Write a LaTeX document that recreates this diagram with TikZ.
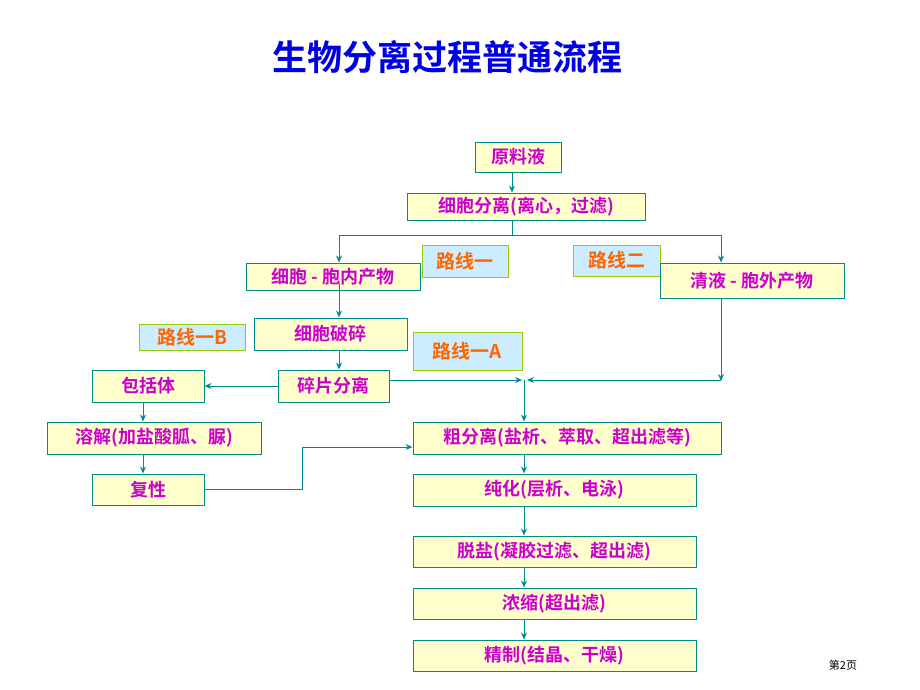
\documentclass[tikz,border=0pt]{standalone}
\usepackage{fontspec}
\setmainfont{Liberation Sans}
\newfontfamily\cjk{Noto Sans CJK SC}[BoldFont={Noto Sans CJK SC Bold}]
\definecolor{boxfill}{RGB}{255,255,204}
\definecolor{boxline}{RGB}{0,140,140}
\definecolor{txtmag}{RGB}{204,0,204}
\definecolor{tagfill}{RGB}{204,236,255}
\definecolor{tagline}{RGB}{153,204,0}
\definecolor{tagtxt}{RGB}{255,102,0}
\usetikzlibrary{arrows.meta}
\begin{document}
\begin{tikzpicture}[x=1pt, y=-1pt, inner sep=0pt,
  stage/.style={draw=boxline, fill=boxfill, line width=1pt, text=txtmag,
    font=\cjk\bfseries\fontsize{18}{18}\selectfont},
  tag/.style={draw=tagline, fill=tagfill, line width=1pt, text=tagtxt,
    font=\cjk\bfseries\fontsize{19}{19}\selectfont},
  link/.style={draw=boxline, line width=1pt, -{Stealth[length=7pt,width=6pt]}},
  wire/.style={draw=boxline, line width=1pt}]
\useasboundingbox (0,0) rectangle (920,690);
\newcommand\bx[7]{\node[#1, minimum width=#4-#3, minimum height=#6-#5] (#2) at ({(#3+#4)/2},{(#5+#6)/2}) {#7};}
\node[text={rgb,255:red,0;green,0;blue,230}, font=\cjk\bfseries\fontsize{35}{35}\selectfont] (title) at (447,57) {生物分离过程普通流程};
\node[font=\cjk\fontsize{11}{11}\selectfont] (page) at (843,665) {第2页};

\bx{stage}{feed}{475}{561}{142}{172}{原料液}
\bx{stage}{sep}{407}{645}{193}{220}{细胞分离(离心，过滤)}
\bx{tag}{r1}{422}{508}{245}{277}{路线一}
\bx{tag}{r2}{573}{660}{245}{276}{路线二}
\bx{stage}{cell}{246}{420}{263}{290}{细胞 - 胞内产物}
\bx{stage}{liq}{660}{844}{263}{298}{清液 - 胞外产物}
\bx{stage}{brk}{254}{407}{318}{350}{细胞破碎}
\bx{tag}{r1b}{139}{245}{324}{350}{路线一B}
\bx{tag}{r1a}{413}{522}{332}{370}{路线一A}
\bx{stage}{incl}{92}{204}{370}{402}{包括体}
\bx{stage}{frag}{278}{389}{370}{402}{碎片分离}
\bx{stage}{dis}{47}{261}{422}{454}{溶解(加盐酸胍、脲)}
\bx{stage}{ref}{92}{204}{474}{505}{复性}
\bx{stage}{crude}{413}{721}{422}{454}{粗分离(盐析、萃取、超出滤等)}
\bx{stage}{pur}{413}{696}{474}{506}{纯化(层析、电泳)}
\bx{stage}{desalt}{413}{696}{536}{567}{脱盐(凝胶过滤、超出滤)}
\bx{stage}{conc}{413}{696}{588}{619}{浓缩(超出滤)}
\bx{stage}{fin}{413}{696}{640}{671}{精制(结晶、干燥)}

\coordinate (split) at (512,235);
\coordinate (join) at (524,380);
\coordinate (bend) at (302,447);
\coordinate (left) at (339,0);
\coordinate (right) at (721,0);
\coordinate (side) at (143,0);
\draw[link] (feed.south -| split) -- (sep.north -| split);
\draw[wire] (sep.south -| split) -- (split);
\draw[link] (split) -| (cell.north -| left);
\draw[link] (split) -| (liq.north -| right);
\draw[link] ([yshift=8pt]cell.south -| left) -- (brk.north -| left);
\draw[link] (brk.south -| left) -- (frag.north -| left);
\draw[link] (frag) -- (incl);
\draw[link] (frag.east |- join) -- ([xshift=-2pt]join);
\draw[wire] (liq.south -| right) -- (right |- join);
\draw[link] (liq.south -| right) -- ([yshift=-1pt]right |- join);
\draw[link] (right |- join) -- ([xshift=3pt]join);
\draw[link] (join) -- (join |- crude.north);
\draw[link] (incl.south -| side) -- (dis.north -| side);
\draw[link] (dis.south -| side) -- (ref.north -| side);
\draw[wire] (ref) -| (bend);
\draw[link] (bend) -- (bend -| crude.west);
\draw[link] (crude.south -| join) -- (pur.north -| join);
\draw[link] (pur.south -| join) -- (desalt.north -| join);
\draw[link] (desalt.south -| join) -- (conc.north -| join);
\draw[link] (conc.south -| join) -- (fin.north -| join);
\end{tikzpicture}
\end{document}
